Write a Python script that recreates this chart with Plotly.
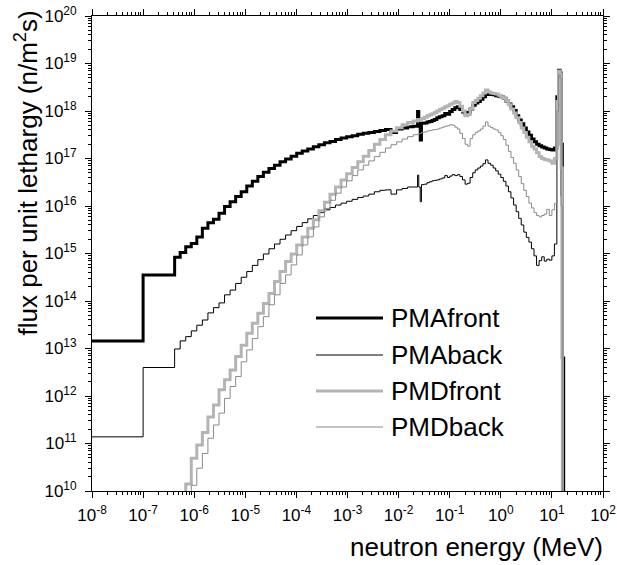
import plotly.graph_objects as go

# Group boundaries of the energy structure (MeV)
ENERGY_EDGES = [
    1e-8, 1e-7,
    4.140e-7, 5.316e-7, 6.826e-7, 8.764e-7, 1.125e-6, 1.445e-6, 1.855e-6, 2.382e-6,
    3.059e-6, 3.928e-6, 5.044e-6, 6.476e-6, 8.315e-6, 1.068e-5, 1.371e-5, 1.760e-5,
    2.260e-5, 2.902e-5, 3.727e-5, 4.785e-5, 6.144e-5, 7.889e-5, 1.013e-4, 1.301e-4,
    1.670e-4, 2.145e-4, 2.754e-4, 3.536e-4, 4.540e-4, 5.830e-4, 7.485e-4, 9.611e-4,
    1.234e-3, 1.585e-3, 2.035e-3, 2.613e-3, 3.355e-3, 4.307e-3, 5.531e-3, 7.102e-3,
    9.119e-3, 1.171e-2, 1.503e-2, 1.930e-2,
    0.0235, 0.0248, 0.0265, 0.028, 0.032, 0.036, 0.040, 0.045, 0.050, 0.056,
    0.063, 0.071, 0.080, 0.090, 0.100, 0.112, 0.126, 0.141, 0.158, 0.178,
    0.200, 0.224, 0.251, 0.282, 0.316, 0.355, 0.398, 0.447, 0.501, 0.562,
    0.631, 0.708, 0.794, 0.891, 1.00, 1.12, 1.26, 1.41, 1.58, 1.78,
    2.00, 2.24, 2.51, 2.82, 3.16, 3.55, 3.98, 4.47, 5.01, 5.62,
    6.31, 7.08, 7.94, 8.91, 10.0, 11.2, 12.5, 13.5, 14.5, 15.2,
    16.0, 17.0, 18.0,
]

# log10 of group flux per unit lethargy, n/m^2/s (one value per group)
LOG_PMA_FRONT = [
    13.16, 14.55, 14.92, 15.02, 15.14, 15.21, 15.35, 15.53, 15.65, 15.72, 15.85, 15.99, 16.09, 16.20, 16.30,
    16.42, 16.52, 16.62, 16.71, 16.79, 16.86, 16.93, 16.99, 17.05, 17.11, 17.16, 17.20, 17.25, 17.29, 17.33,
    17.36, 17.40, 17.43, 17.46, 17.48, 17.51, 17.53, 17.55, 17.57, 17.59, 17.61, 17.55, 17.62, 17.64, 17.67,
    17.68, 17.99, 17.70, 17.39, 17.74, 17.75, 17.77, 17.78, 17.80, 17.82, 17.86, 17.88, 17.90, 17.95, 17.93,
    17.99, 18.03, 18.07, 18.09, 18.03, 17.98, 17.94, 17.97, 18.04, 18.12, 18.17, 18.20, 18.25, 18.30, 18.35,
    18.36, 18.35, 18.34, 18.32, 18.31, 18.30, 18.27, 18.21, 18.15, 18.09, 18.01, 17.90, 17.81, 17.73, 17.64,
    17.56, 17.49, 17.41, 17.35, 17.30, 17.27, 17.24, 17.22, 17.20, 17.19, 17.18, 17.22,
    18.30, 18.86, 18.80, 17.30, 12.80, 8.00,
]

LOG_PMA_BACK = [
    11.14, 12.60, 12.99, 13.16, 13.25, 13.37, 13.49, 13.60, 13.75, 13.86, 13.96, 14.13, 14.23, 14.37, 14.50,
    14.62, 14.75, 14.87, 14.99, 15.10, 15.20, 15.30, 15.39, 15.48, 15.57, 15.65, 15.73, 15.80, 15.86, 15.92,
    15.97, 16.02, 16.06, 16.10, 16.14, 16.18, 16.21, 16.25, 16.30, 16.33, 16.34, 16.25, 16.34, 16.37, 16.40,
    16.40, 16.65, 16.40, 16.09, 16.45, 16.46, 16.49, 16.51, 16.53, 16.54, 16.55, 16.57, 16.59, 16.64, 16.60,
    16.63, 16.66, 16.64, 16.66, 16.62, 16.55, 16.46, 16.48, 16.60, 16.70, 16.76, 16.80, 16.84, 16.89, 16.97,
    16.90, 16.86, 16.80, 16.74, 16.67, 16.60, 16.52, 16.42, 16.30, 16.17, 16.02, 15.88, 15.74, 15.60, 15.45,
    15.34, 15.24, 15.10, 14.95, 14.75, 14.85, 14.93, 14.84, 14.88, 14.86, 14.95, 15.20,
    18.10, 18.78, 18.70, 16.20, 12.40, 8.00,
]

LOG_PMD_FRONT = [
    8.00, 8.00, 8.00, 8.00, 10.15, 10.69, 10.97, 11.23, 11.56, 11.81, 12.13, 12.34, 12.55, 12.83, 13.07,
    13.32, 13.53, 13.74, 13.95, 14.16, 14.41, 14.62, 14.83, 14.99, 15.18, 15.35, 15.53, 15.71, 15.90, 16.08,
    16.25, 16.40, 16.55, 16.68, 16.81, 16.93, 17.05, 17.17, 17.30, 17.40, 17.50, 17.58, 17.65, 17.71, 17.76,
    17.79, 17.82, 17.80, 17.81, 17.84, 17.87, 17.90, 17.92, 17.94, 17.97, 18.00, 18.03, 18.06, 18.09, 18.11,
    18.14, 18.17, 18.20, 18.18, 18.10, 18.00, 17.90, 17.92, 18.05, 18.18, 18.22, 18.27, 18.32, 18.38, 18.44,
    18.40, 18.38, 18.37, 18.36, 18.33, 18.30, 18.27, 18.22, 18.13, 18.04, 17.96, 17.86, 17.76, 17.64, 17.55,
    17.45, 17.35, 17.26, 17.20, 17.12, 17.04, 17.00, 16.98, 16.97, 16.95, 16.90, 17.00,
    18.20, 18.84, 18.78, 16.80, 8.00, 8.00,
]

LOG_PMD_BACK = [
    8.00, 8.00, 8.00, 8.00, 8.00, 10.12, 10.48, 10.79, 11.11, 11.39, 11.64, 11.95, 12.20, 12.41, 12.72,
    12.97, 13.21, 13.46, 13.67, 13.92, 14.13, 14.37, 14.55, 14.76, 14.97, 15.18, 15.35, 15.56, 15.77, 15.95,
    16.12, 16.27, 16.40, 16.53, 16.64, 16.76, 16.86, 16.95, 17.04, 17.13, 17.22, 17.29, 17.35, 17.41, 17.46,
    17.50, 17.51, 17.52, 17.53, 17.55, 17.56, 17.58, 17.59, 17.60, 17.61, 17.62, 17.64, 17.66, 17.68, 17.69,
    17.71, 17.70, 17.66, 17.62, 17.53, 17.42, 17.30, 17.26, 17.42, 17.50, 17.55, 17.58, 17.62, 17.68, 17.77,
    17.68, 17.65, 17.62, 17.60, 17.55, 17.48, 17.40, 17.28, 17.15, 17.02, 16.90, 16.76, 16.62, 16.47, 16.33,
    16.20, 16.06, 15.96, 15.86, 15.80, 15.77, 15.80, 15.83, 15.93, 15.80, 15.92, 16.05,
    18.00, 18.76, 18.68, 16.00, 8.00, 8.00,
]

# Decade tick exponents
X_EXPONENTS = [-8, -7, -6, -5, -4, -3, -2, -1, 0, 1, 2]
Y_EXPONENTS = [10, 11, 12, 13, 14, 15, 16, 17, 18, 19, 20]

SERIES = [
    ("PMAfront", LOG_PMA_FRONT, "#000000", 3.0),
    ("PMAback", LOG_PMA_BACK, "#000000", 1.0),
    ("PMDfront", LOG_PMD_FRONT, "#b4b4b4", 3.0),
    ("PMDback", LOG_PMD_BACK, "#8a8a8a", 1.0),
]

FONT = "Liberation Sans, Arial, Helvetica, sans-serif"

W, H = 617, 565
M_L, M_R, M_T, M_B = 92, 14, 16, 74
PW, PH = W - M_L - M_R, H - M_T - M_B


def px_to_paper(px, py):
    return (px - M_L) / PW, (H - M_B - py) / PH


fig = go.Figure()
for name, logs, color, width in SERIES:
    flux = [10 ** v for v in logs]
    fig.add_trace(go.Scatter(
        x=ENERGY_EDGES,
        y=flux + [flux[-1]],
        mode="lines",
        name=name,
        line=dict(shape="hv", color=color, width=width),
        showlegend=False,
        hoverinfo="skip",
    ))


def decade_axis(exponents, standoff):
    return dict(
        type="log",
        range=[exponents[0], exponents[-1]],
        tickmode="array",
        tickvals=[10.0 ** e for e in exponents],
        ticktext=[f"10<sup>{e}</sup>" for e in exponents],
        automargin=False,
        showline=True,
        linecolor="black",
        linewidth=1,
        mirror="ticks",
        ticks="outside",
        ticklen=6,
        tickwidth=1,
        tickcolor="black",
        ticklabelstandoff=standoff,
        showgrid=False,
        zeroline=False,
        tickfont=dict(family=FONT, size=17, color="black"),
        minor=dict(ticks="outside", ticklen=3, tickwidth=1, tickcolor="black",
                   dtick="D1", showgrid=False),
    )


# Legend drawn as line samples with labels
shapes = []
annotations = []
legend_rows = [318, 355, 391, 427]
for (name, _, color, width), row_y in zip(SERIES, legend_rows):
    x0, y0 = px_to_paper(316, row_y)
    x1, _ = px_to_paper(383, row_y)
    shapes.append(dict(type="line", xref="paper", yref="paper",
                       x0=x0, x1=x1, y0=y0, y1=y0,
                       line=dict(color=color, width=width)))
    tx, _ = px_to_paper(389, row_y)
    annotations.append(dict(xref="paper", yref="paper", x=tx, y=y0,
                            xanchor="left", yanchor="middle", showarrow=False,
                            text=name, font=dict(family=FONT, size=26, color="black")))

xt_x, xt_y = px_to_paper(605, 547)
annotations.append(dict(xref="paper", yref="paper", x=xt_x, y=xt_y,
                        xanchor="right", yanchor="middle", showarrow=False,
                        text="neutron energy (MeV)",
                        font=dict(family=FONT, size=26, color="black")))
yt_x, yt_y = px_to_paper(27, 9)
annotations.append(dict(xref="paper", yref="paper", x=yt_x, y=yt_y,
                        xanchor="center", yanchor="top", showarrow=False,
                        textangle=-90,
                        text="flux per unit lethargy (n/m<sup>2</sup>s)",
                        font=dict(family=FONT, size=26, color="black")))

fig.update_layout(
    width=W,
    height=H,
    margin=dict(l=M_L, r=M_R, t=M_T, b=M_B, pad=0, autoexpand=False),
    paper_bgcolor="white",
    plot_bgcolor="white",
    xaxis=decade_axis(X_EXPONENTS, 3),
    yaxis=decade_axis(Y_EXPONENTS, 5),
    shapes=shapes,
    annotations=annotations,
)

fig.write_html("out.html")
